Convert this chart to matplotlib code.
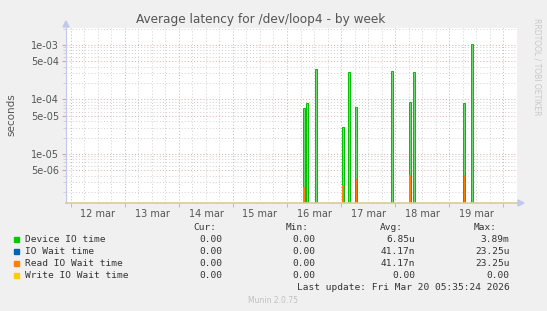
import matplotlib
matplotlib.use("Agg")
import matplotlib.pyplot as plt
import matplotlib.dates as mdates
from matplotlib.ticker import FixedLocator, NullFormatter
import numpy as np
from datetime import datetime, timedelta

# ---------------- data ----------------
title = "Average latency for /dev/loop4 - by week"
day_labels = ["12 mar", "13 mar", "14 mar", "15 mar", "16 mar", "17 mar", "18 mar", "19 mar"]
day_starts = [datetime(2026, 3, d) for d in range(12, 21)]

device_times = ["2026-03-16 07:40", "2026-03-16 09:00", "2026-03-16 13:00",
                "2026-03-17 01:00", "2026-03-17 03:40", "2026-03-17 06:50",
                "2026-03-17 22:50", "2026-03-18 06:40", "2026-03-18 08:35",
                "2026-03-19 06:50", "2026-03-19 10:10"]
device_values = [6.9e-5, 8.5e-5, 3.6e-4, 3.1e-5, 3.15e-4, 7.2e-5,
                 3.3e-4, 9.0e-5, 3.2e-4, 8.6e-5, 1.03e-3]

read_times = ["2026-03-16 07:40", "2026-03-17 01:00", "2026-03-17 06:50",
              "2026-03-18 06:40", "2026-03-19 06:50"]
read_values = [2.5e-6, 2.7e-6, 3.5e-6, 4.1e-6, 4.05e-6]
iowait_values = read_values  # same as read IO wait

legend_names = ["Device IO time", "IO Wait time", "Read IO Wait time", "Write IO Wait time"]
legend_colors = ["#00cc00", "#0066b3", "#ff8000", "#ffcc00"]
cur_vals = ["0.00", "0.00", "0.00", "0.00"]
min_vals = ["0.00", "0.00", "0.00", "0.00"]
avg_vals = ["6.85u", "41.17n", "41.17n", "0.00"]
max_vals = ["3.89m", "23.25u", "23.25u", "0.00"]
last_update = "Last update: Fri Mar 20 05:35:24 2026"
y_major = [5e-6, 1e-5, 5e-5, 1e-4, 5e-4, 1e-3]
y_major_labels = ["5e-06", "1e-05", "5e-05", "1e-04", "5e-04", "1e-03"]

# ---------------- figure ----------------
W, H = 547, 311
fig = plt.figure(figsize=(W / 100, H / 100), dpi=100, facecolor="#f0f0f0")
px_l, px_r, px_t, px_b = 66, 517, 28, 203
ax = fig.add_axes([px_l / W, 1 - px_b / H, (px_r - px_l) / W, (px_b - px_t) / H])
ax.set_facecolor("white")

x0 = datetime(2026, 3, 11, 21, 47)
x1 = datetime(2026, 3, 20, 6, 13)
ybot, ytop = 1.26e-6, 2.05e-3
ax.set_yscale("log")
ax.set_xlim(x0, x1)
ax.set_ylim(ybot, ytop)

# grid
minor_y = [m * 10.0 ** e for e in range(-7, -2) for m in (2, 3, 4, 6, 7, 8, 9)]
minor_y = [v for v in minor_y if ybot < v < ytop]
for v in minor_y:
    ax.axhline(v, color="#d0d0d0", lw=0.7, ls=(0, (1, 2.2)), zorder=1)
t = datetime(2026, 3, 11, 0, 0)
while t < x1:
    if t > x0 and t.hour != 0:
        ax.axvline(t, color="#d0d0d0", lw=0.7, ls=(0, (1, 2.2)), zorder=1)
    t += timedelta(hours=6)
for v in y_major:
    ax.axhline(v, color="#e4a8a8", lw=0.7, ls=(0, (1, 2.2)), zorder=1)
for d in day_starts:
    ax.axvline(d, color="#e4a8a8", lw=0.7, ls=(0, (1, 2.2)), zorder=1)

# spikes
dev_t = [datetime.strptime(s, "%Y-%m-%d %H:%M") for s in device_times]
rd_t = [datetime.strptime(s, "%Y-%m-%d %H:%M") for s in read_times]
bw = 0.04
ax.bar(dev_t, np.array(device_values) - ybot, bottom=ybot, width=bw,
       color="#66dd66", edgecolor="#00c000", linewidth=0.7, zorder=3)
ax.bar(rd_t, np.array(iowait_values) - ybot, bottom=ybot, width=bw * 0.8,
       color=legend_colors[1], linewidth=0, zorder=4)
ax.bar(rd_t, np.array(read_values) - ybot, bottom=ybot, width=bw * 0.8,
       color=legend_colors[2], linewidth=0, zorder=5)

# axes styling
for s in ["top", "right"]:
    ax.spines[s].set_visible(False)
ax.spines["left"].set_color("#c0c8f0")
ax.spines["left"].set_linewidth(0.8)
ax.spines["bottom"].set_color("#d8cc99")
ax.spines["bottom"].set_linewidth(1.2)
ax.spines["bottom"].set_zorder(6)

ax.yaxis.set_major_locator(FixedLocator(y_major))
ax.set_yticklabels(y_major_labels)
ax.yaxis.set_minor_locator(FixedLocator(minor_y))
ax.yaxis.set_minor_formatter(NullFormatter())
ax.tick_params(axis="y", which="major", length=3, color="#e0a0a0", labelsize=7,
               labelcolor="#555555", pad=2)
ax.tick_params(axis="y", which="minor", length=2, color="#cccccc")

noon = [d + timedelta(hours=12) for d in day_starts[:-1]]
ax.set_xticks(noon)
ax.set_xticklabels(day_labels)
ax.tick_params(axis="x", which="major", length=0, labelsize=7, labelcolor="#555555", pad=4)
ax.set_xticks(day_starts, minor=True)
ax.tick_params(axis="x", which="minor", length=3, color="#e0a0a0", direction="out")

# arrows
fig.patches.append(plt.Polygon([[(px_l - 3) / W, 1 - (px_t - 1) / H],
                                 [(px_l + 3) / W, 1 - (px_t - 1) / H],
                                 [px_l / W, 1 - (px_t - 7) / H]],
                                closed=True, transform=fig.transFigure,
                                color="#c0c8f0"))
fig.patches.append(plt.Polygon([[(px_r + 1) / W, 1 - (px_b - 3) / H],
                                 [(px_r + 1) / W, 1 - (px_b + 3) / H],
                                 [(px_r + 7) / W, 1 - px_b / H]],
                                closed=True, transform=fig.transFigure,
                                color="#c0c8f0"))

# texts
fig.text(261 / W, 1 - 20 / H, title, ha="center", va="center", fontsize=8.7, color="#555555")
fig.text(11 / W, 1 - 115 / H, "seconds", rotation=90, ha="center", va="center",
         fontsize=7.5, color="#555555")
fig.text(537 / W, 1 - 67 / H, "RRDTOOL / TOBI OETIKER", rotation=270, ha="center",
         va="center", fontsize=5.5, color="#c8c8c8")

mono = dict(family="DejaVu Sans Mono", fontsize=6.8, color="#333333")
hy = 228
fig.text(216 / W, 1 - hy / H, "Cur:", ha="right", va="center", **mono)
fig.text(309 / W, 1 - hy / H, "Min:", ha="right", va="center", **mono)
fig.text(403 / W, 1 - hy / H, "Avg:", ha="right", va="center", **mono)
fig.text(497 / W, 1 - hy / H, "Max:", ha="right", va="center", **mono)
rows_y = [239.7, 251.5, 263.5, 275.5]
for i, yy in enumerate(rows_y):
    fig.patches.append(plt.Rectangle((13.5 / W, 1 - (yy + 2.5) / H), 5 / W, 5 / H,
                                     transform=fig.transFigure, color=legend_colors[i]))
    fig.text(25 / W, 1 - yy / H, legend_names[i], ha="left", va="center", **mono)
    fig.text(222 / W, 1 - yy / H, cur_vals[i], ha="right", va="center", **mono)
    fig.text(315.5 / W, 1 - yy / H, min_vals[i], ha="right", va="center", **mono)
    fig.text(415.5 / W, 1 - yy / H, avg_vals[i], ha="right", va="center", **mono)
    fig.text(509.5 / W, 1 - yy / H, max_vals[i], ha="right", va="center", **mono)
fig.text(509.5 / W, 1 - 287.5 / H, last_update, ha="right", va="center", **mono)
fig.text(273 / W, 1 - 300.5 / H, "Munin 2.0.75", ha="center", va="center",
         fontsize=5.5, color="#c0c0c0")

fig.savefig("out.png", dpi=100, facecolor=fig.get_facecolor())
